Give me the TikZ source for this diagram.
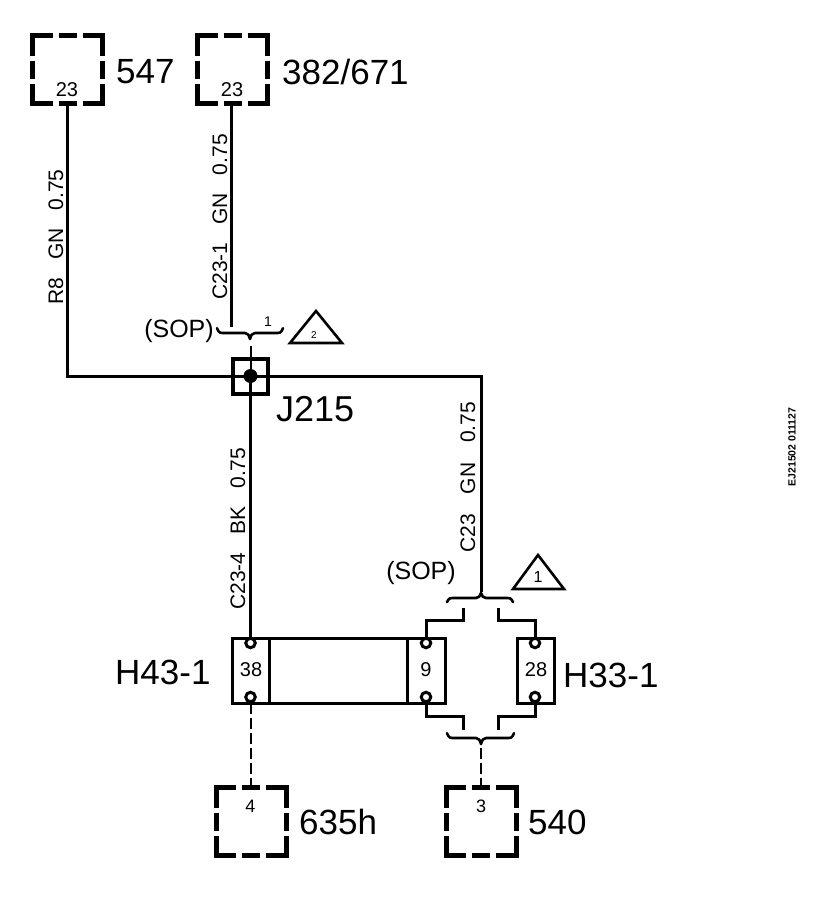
\documentclass[tikz,border=0pt]{standalone}
\usepackage{fontspec}
\setmainfont{Liberation Sans}
\usetikzlibrary{calc}
\newcommand{\fsz}[1]{\fontsize{#1}{#1}\selectfont}
\newcommand{\gapw}{\hspace{18pt}}
\tikzset{
  wire/.style={line width=3pt,line join=miter},
  dashwire/.style={line width=2pt,dash pattern=on 11pt off 4pt},
  bracel/.style={line width=2.6pt,line join=round,line cap=round},
  heavy/.style={line width=5pt,line cap=butt,line join=miter},
  frame/.style={draw,line width=3pt,inner sep=0pt},
  bigl/.style={inner sep=0pt,anchor=west,font=\fsz{35}},
  wirel/.style={inner sep=0pt,rotate=90,anchor=base west,font=\fsz{21}},
  soplabel/.style={inner sep=0pt,font=\fsz{25}},
  pinnum/.style={inner sep=0pt,font=\fsz{20}},
  pin/.style={circle,draw,fill=white,line width=3pt,minimum size=9.5pt,inner sep=0pt},
  tri/.style={line width=2.6pt,line join=miter},
  hub/.style={inner sep=0pt,minimum width=70pt,minimum height=68pt},
}
% dashed connector box centred on a named node
\newcommand{\dbox}[3]{%
  \node[hub] (#1) at (#2,#3) {};
  \begin{scope}[shift={(#2,#3)}]
    \draw[heavy] (-35,-14)--(-35,-34)--(-15,-34);
    \draw[heavy] (-9,-34)--(9,-34);
    \draw[heavy] (15,-34)--(35,-34)--(35,-14);
    \draw[heavy] (-35,-9)--(-35,9);
    \draw[heavy] (35,-9)--(35,9);
    \draw[heavy] (-35,14)--(-35,34)--(-15,34);
    \draw[heavy] (-9,34)--(9,34);
    \draw[heavy] (15,34)--(35,34)--(35,14);
  \end{scope}}
% brace: #1 left x, #2 right x, #3 tip x, #4 bar y, #5 tip direction (+ = down)
\newcommand{\wbrace}[5]{%
  \draw[bracel] (#1,#4-#5*0.8) .. controls (#1+2,#4) and (#1+3,#4) .. (#1+7,#4)
    -- (#3-5,#4) .. controls (#3-2,#4) and (#3-1,#4+#5*0.4) .. (#3,#4+#5)
    .. controls (#3+1,#4+#5*0.4) and (#3+2,#4) .. (#3+5,#4)
    -- (#2-7,#4) .. controls (#2-3,#4) and (#2-2,#4) .. (#2,#4-#5*0.8);}
\begin{document}
\begin{tikzpicture}[x=1pt,y=-1pt]
\useasboundingbox (0,0) rectangle (832,904);
\fill[white] (0,0) rectangle (832,904);

% connector boxes
\dbox{b547}{67.5}{70}
\dbox{b382}{232.5}{70}
\dbox{b635}{251}{821.5}
\dbox{b540}{481}{821.5}

\node[pinnum] at (67,90) {23};
\node[pinnum] at (232,90) {23};
\node[pinnum,font=\fsz{18}] at (250.5,806) {4};
\node[pinnum,font=\fsz{18}] at (481,806) {3};

\node[bigl] at (116,72) {547};
\node[bigl] at (282,72) {382/671};
\node[bigl] at (299,822) {635h};
\node[bigl] at (528,822) {540};

% upper SOP brace
\wbrace{217}{283}{250}{333}{6}
\coordinate (btop) at (250.5,346);
\coordinate (btopin) at (231,327);
\node[pinnum,font=\fsz{14}] at (268,322) {1};
\node[soplabel] at (179,331) {(SOP)};
\draw[tri] (290,343) -- (316,311) -- (342,343) -- cycle;
\node[pinnum,font=\fsz{10}] at (314,335) {2};

% splice J215
\node[frame,line width=4pt,minimum width=35pt,minimum height=35pt] (j215) at (250.5,376) {};
\node[circle,fill=black,minimum size=14pt,inner sep=0pt] (jdot) at (250.5,376) {};
\node[bigl,font=\fsz{36}] at (276,409) {J215};

% wires at J215
\coordinate (bend547) at (67,376);
\coordinate (bend540) at (481,376);
\coordinate (b2top) at (481,592);
\draw[wire] (b547.south -| 67,0) -- (bend547) -- (jdot.center) -- (bend540) -- (b2top);
\draw[wire] (b382.south -| 231,0) -- (btopin);
\draw[wire,line width=2pt] (btop) -- (jdot.center);

% H43-1 connector
\node[frame,minimum width=213pt,minimum height=65pt] (h43) at (338.5,670.5) {};
\draw[line width=3pt] (269,638) -- (269,703);
\draw[line width=3pt] (407,638) -- (407,703);
\node[frame,minimum width=37pt,minimum height=65pt] (h33) at (535.5,670.5) {};

\node[pin] (p38t) at (250.5,643) {};
\node[pin] (p38b) at (250.5,697) {};
\node[pin] (p9t) at (426,643) {};
\node[pin] (p9b) at (426,697) {};
\node[pin] (p28t) at (535,643) {};
\node[pin] (p28b) at (535,697) {};

\draw[wire] (jdot.center) -- (p38t.north);

% SOP braces of H33/H43
\wbrace{447}{513}{481}{598}{-5}
\coordinate (sl) at (463,608);
\coordinate (sr) at (498,608);
\coordinate (bl) at (463,730);
\coordinate (br) at (498,730);
\coordinate (bb) at (481,748);
\wbrace{447}{514}{481}{738}{6}

\draw[wire] (sl) -- (463,620) -- (426,620) -- (p9t.north);
\draw[wire] (sr) -- (498,620) -- (535,620) -- (p28t.north);
\draw[wire] (p9b.south) -- (426,716) -- (463,716) -- (bl);
\draw[wire] (p28b.south) -- (535,716) -- (498,716) -- (br);

\draw[dashwire] (p38b.south) -- (b635.north -| 250.5,0);
\draw[dashwire] (bb) -- (b540.north -| 481,0);

\node[pinnum] at (251,670) {38};
\node[pinnum] at (426,670) {9};
\node[pinnum] at (536,670) {28};

\node[bigl,font=\fsz{35}] at (115,672) {H43-1};
\node[bigl,font=\fsz{35}] at (563,675) {H33-1};

\node[soplabel] at (421,573) {(SOP)};
\draw[tri] (513,589) -- (538,555) -- (564,589) -- cycle;
\node[pinnum,font=\fsz{16}] at (538,577) {1};

% wire labels
\node[wirel] at (63,305) {R8\gapw GN\gapw 0.75};
\node[wirel] at (227,300) {C23-1\gapw GN\gapw 0.75};
\node[wirel] at (245,610) {C23-4\gapw BK\gapw 0.75};
\node[wirel] at (475,553) {C23\hspace{20pt}GN\hspace{20pt}0.75};

\node[inner sep=0pt,rotate=90,font=\fsz{10.5}\bfseries] at (792,447) {EJ21502 011127};
\end{tikzpicture}
\end{document}
